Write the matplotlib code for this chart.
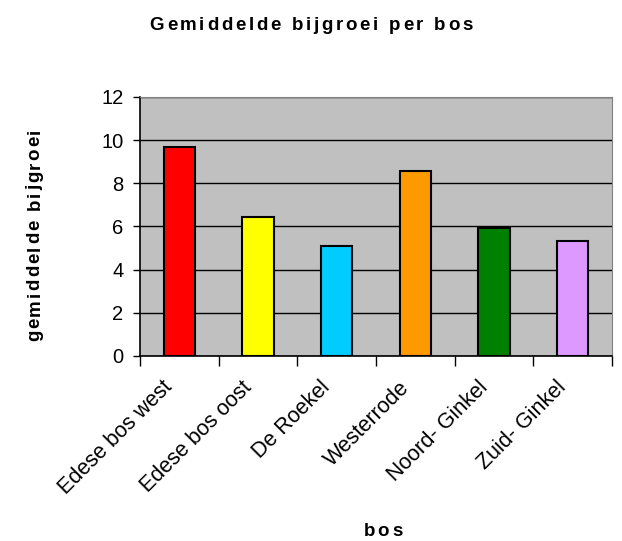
import matplotlib
matplotlib.use("Agg")
import matplotlib.pyplot as plt
import matplotlib.transforms as mtransforms
from matplotlib.font_manager import FontProperties

# Gemiddelde bijgroei per bos
bossen = ['Edese bos west', 'Edese bos oost', 'De Roekel', 'Westerrode',
          'Noord- Ginkel', 'Zuid- Ginkel']
bijgroei = [9.7, 6.45, 5.07, 8.58, 5.91, 5.33]
kleuren = ['#FF0000', '#FFFF00', '#00CCFF', '#FF9900', '#008000', '#DD99FF']

plt.rcParams['font.family'] = ['Liberation Sans', 'DejaVu Sans']

W, H = 622, 541
fig = plt.figure(figsize=(W / 100, H / 100), dpi=100)
ax = fig.add_axes([0.225, 0.342, 0.759, 0.479])
ax.set_facecolor('#C0C0C0')

x = list(range(len(bossen)))
ax.bar(x, bijgroei, width=0.4, color=kleuren, edgecolor='black',
       linewidth=1.5, zorder=3)

ax.set_ylim(0, 12)
ax.set_yticks(range(0, 13, 2))
ax.set_xlim(-0.5, len(bossen) - 0.5)
ax.yaxis.grid(True, color='black', linewidth=1, zorder=0)

# ticks op de grenzen tussen categorieen, labels schuin onder de staven
ax.set_xticks([i - 0.5 for i in range(len(bossen) + 1)])
ax.set_xticklabels([])
ax.tick_params(axis='x', length=7, width=1)
ax.tick_params(axis='y', labelsize=14.5, length=5, width=1, pad=7)

offset = mtransforms.ScaledTranslation(-17 / 100, -21 / 100, fig.dpi_scale_trans)
for xi, naam in zip(x, bossen):
    ax.text(xi, 0, naam, transform=ax.transData + offset, rotation=45,
            rotation_mode='anchor', ha='right', va='top', fontsize=15.5,
            clip_on=False)

for s in ['top', 'right']:
    ax.spines[s].set_color('#808080')
for s in ['left', 'bottom']:
    ax.spines[s].set_linewidth(1.2)


# vette tekst met extra letterafstand, zoals in het origineel
def spaced_text(cx, cy, s, size=13.5, spacing=2.7, vertical=False):
    renderer = fig.canvas.get_renderer()
    prop = FontProperties(family='Liberation Sans', weight='bold', size=size)

    def width(t):
        return renderer.get_text_width_height_descent(t, prop, ismath=False)[0]

    total = width(s) + spacing * (len(s) - 1)
    start = -total / 2
    for i, ch in enumerate(s):
        if ch == ' ':
            continue
        off = start + width(s[:i + 1]) - width(ch) + i * spacing
        if vertical:
            fig.text(cx / W, (cy + off) / H, ch, fontproperties=prop,
                     rotation=90, rotation_mode='anchor', ha='left',
                     va='center')
        else:
            fig.text((cx + off) / W, cy / H, ch, fontproperties=prop,
                     ha='left', va='center')


spaced_text(311, H - 25, 'Gemiddelde bijgroei per bos')
spaced_text(35, H - 235, 'gemiddelde bijgroei', spacing=2.0, vertical=True)
spaced_text(383, H - 531, 'bos')

fig.savefig('out.png', dpi=100)
